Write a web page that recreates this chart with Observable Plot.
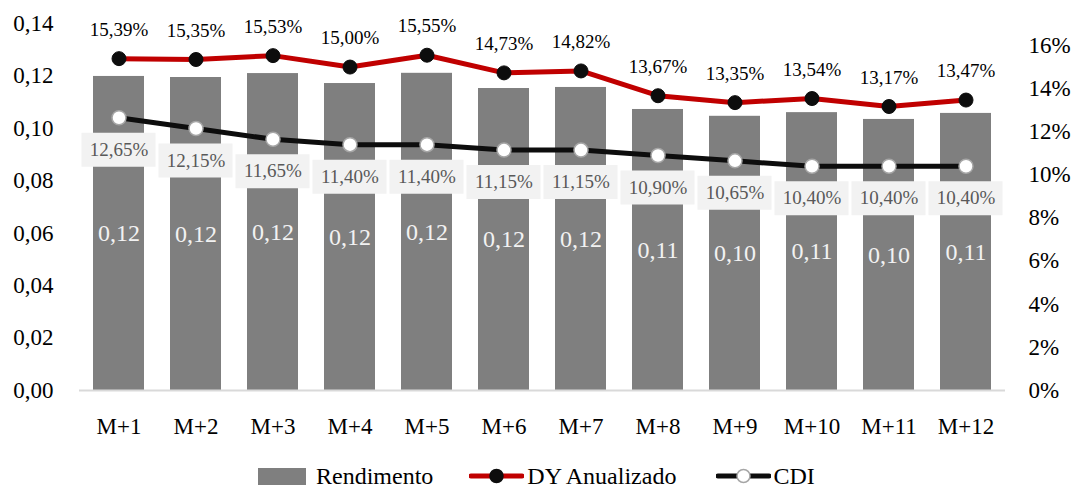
<!DOCTYPE html>
<html>
<head>
<meta charset="utf-8">
<script src="https://cdn.jsdelivr.net/npm/d3@7"></script>
<script src="https://cdn.jsdelivr.net/npm/@observablehq/plot@0.6"></script>
<style>
  body { margin: 0; background: #fff; font-family: "Liberation Serif", "Times New Roman", Tinos, "DejaVu Serif", serif; }
  #wrap { position: relative; width: 1077px; height: 490px; }
  #chart svg { display: block; }
  #legend { position: absolute; top: 462px; left: 0; width: 1077px; height: 28px;
            display: flex; align-items: center; font-size: 24px; line-height: 28px; color: #000; }
  #legend .item { display: flex; align-items: center; }
</style>
</head>
<body>
<div id="wrap">
  <div id="chart"></div>
  <div id="legend"></div>
</div>
<script>
// ---- Data ----
const months = ["M+1","M+2","M+3","M+4","M+5","M+6","M+7","M+8","M+9","M+10","M+11","M+12"];
const rendimento = [0.1198,0.1194,0.1209,0.1171,0.1210,0.1152,0.1156,0.1072,0.1046,0.1060,0.1034,0.1057];
const dyAnualizado = [0.1539,0.1535,0.1553,0.1500,0.1555,0.1473,0.1482,0.1367,0.1335,0.1354,0.1317,0.1347];
const cdiValues = [0.1265,0.1215,0.1165,0.1140,0.1140,0.1115,0.1115,0.1090,0.1065,0.1040,0.1040,0.1040];
const leftTicks = [0,0.02,0.04,0.06,0.08,0.10,0.12,0.14];
const rightTicks = [0,0.02,0.04,0.06,0.08,0.10,0.12,0.14,0.16];
const seriesNames = ["Rendimento","DY Anualizado","CDI"];
const leftMax = 0.14;
const rightMax = 0.1702;

// ---- Build ----
const FONT = '"Liberation Serif", "Times New Roman", Tinos, "DejaVu Serif", serif';
const k = leftMax / rightMax; // right-axis value -> left-axis units
const data = months.map((m, i) => ({
  m,
  r: rendimento[i],
  dy: dyAnualizado[i] * k,
  dyRaw: dyAnualizado[i],
  cdi: cdiValues[i] * k,
  cdiRaw: cdiValues[i]
}));
const comma = (v, n) => v.toFixed(n).replace(".", ",");
const pct = v => comma(v * 100, 2) + "%";

const chart = Plot.plot({
  width: 1077,
  height: 452,
  marginTop: 23,
  marginBottom: 62,
  marginLeft: 79,
  marginRight: 72,
  style: { fontFamily: FONT, fontSize: "23px", color: "#000", background: "#fff" },
  x: { domain: months, paddingInner: 0.34, paddingOuter: 0.17, axis: null },
  y: { domain: [0, leftMax], axis: null },
  marks: [
    Plot.axisY({ anchor: "left", ticks: leftTicks, tickFormat: d => comma(d, 2), tickSize: 0, tickPadding: 26, fontSize: 23, label: null }),
    Plot.axisY({ anchor: "right", ticks: rightTicks.map(t => t * k), tickFormat: d => Math.round(d / k * 100) + "%", tickSize: 0, tickPadding: 23, fontSize: 23, label: null }),
    Plot.axisX({ anchor: "bottom", tickSize: 0, tickPadding: 27, fontSize: 23, label: null }),
    Plot.barY(data, { x: "m", y: "r", fill: "#7f7f7f" }),
    Plot.ruleY([0], { stroke: "#d9d9d9", strokeWidth: 2 }),
    Plot.text(data, { x: "m", y: d => d.r / 2, text: d => comma(d.r, 2), fill: "#f2f2f2", fontSize: 24 }),
    Plot.tickY(data, { x: "m", y: "cdi", dy: 32, stroke: "#f2f2f2", strokeWidth: 34, insetLeft: -11.5, insetRight: -11.5 }),
    Plot.text(data, { x: "m", y: "cdi", dy: 32, text: d => pct(d.cdiRaw), fill: "#595959", fontSize: 19 }),
    Plot.line(data, { x: "m", y: "dy", stroke: "#c00000", strokeWidth: 5, strokeLinejoin: "round" }),
    Plot.line(data, { x: "m", y: "cdi", stroke: "#0d0d0d", strokeWidth: 5, strokeLinejoin: "round" }),
    Plot.dot(data, { x: "m", y: "dy", r: 7, fill: "#0d0d0d", stroke: "#0d0d0d", strokeWidth: 1 }),
    Plot.dot(data, { x: "m", y: "cdi", r: 7, fill: "#ffffff", stroke: "#a6a6a6", strokeWidth: 1.5 }),
    Plot.text(data, { x: "m", y: "dy", dy: -29, text: d => pct(d.dyRaw), fill: "#000", fontSize: 19 })
  ]
});
document.getElementById("chart").appendChild(chart);

// ---- Legend ----
const legend = document.getElementById("legend");
legend.style.paddingLeft = "258px";
legend.style.boxSizing = "border-box";
function lineSwatch(color, dotFill, dotStroke) {
  return `<svg width="55" height="20" style="display:block"><line x1="2" x2="53" y1="10" y2="10" stroke="${color}" stroke-width="5" stroke-linecap="round"/><circle cx="27.5" cy="10" r="6.5" fill="${dotFill}" stroke="${dotStroke}" stroke-width="1.5"/></svg>`;
}
legend.innerHTML =
  `<div class="item"><div style="width:48px;height:17px;background:#7f7f7f;margin-right:10px"></div><span>${seriesNames[0]}</span></div>` +
  `<div class="item" style="margin-left:36px">${lineSwatch("#c00000", "#0d0d0d", "#0d0d0d")}<span style="margin-left:3px">${seriesNames[1]}</span></div>` +
  `<div class="item" style="margin-left:40px">${lineSwatch("#0d0d0d", "#ffffff", "#a6a6a6")}<span style="margin-left:2px">${seriesNames[2]}</span></div>`;
</script>
</body>
</html>
